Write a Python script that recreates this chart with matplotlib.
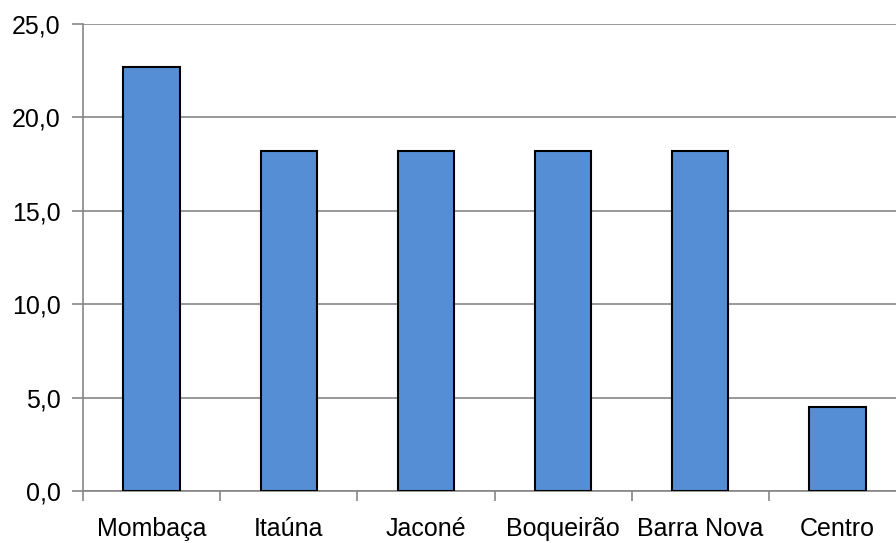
import matplotlib.pyplot as plt
import numpy as np

bairros = ["Mombaça", "Itaúna", "Jaconé", "Boqueirão", "Barra Nova", "Centro"]
valores = [22.7, 18.2, 18.2, 18.2, 18.2, 4.5]
yticks = [0, 5, 10, 15, 20, 25]

plt.rcParams['font.family'] = ['Liberation Sans', 'DejaVu Sans']

fig = plt.figure(figsize=(8.96, 5.43), dpi=100)
ax = fig.add_axes([83/896, 1-491/543, (906-83)/896, (491-24)/543])

x = np.arange(len(bairros))
ax.bar(x, valores, width=0.41, color='#558ED5', edgecolor='black', linewidth=1.5, zorder=3)

ax.set_xlim(-0.5, len(bairros)-0.5)
ax.set_ylim(0, 25)
ax.set_yticks(yticks)
ax.set_yticklabels([f"{v:.1f}".replace('.', ',') for v in yticks])
ax.yaxis.grid(True, color='#868686', linewidth=1.2, zorder=0)

ax.set_xticks(x)
ax.set_xticklabels(bairros)
ax.set_xticks(np.arange(-0.5, len(bairros)-0.5, 1), minor=True)
ax.tick_params(axis='x', which='major', length=0, pad=19, labelsize=18)
ax.tick_params(axis='x', which='minor', length=7, color='#868686', width=1.2)
ax.tick_params(axis='y', length=8, color='#868686', width=1.2, pad=8, labelsize=18)

for s in ['top', 'right']:
    ax.spines[s].set_visible(False)
for s in ['left', 'bottom']:
    ax.spines[s].set_color('#868686')
    ax.spines[s].set_linewidth(1.2)

fig.savefig('out.png', dpi=100)
